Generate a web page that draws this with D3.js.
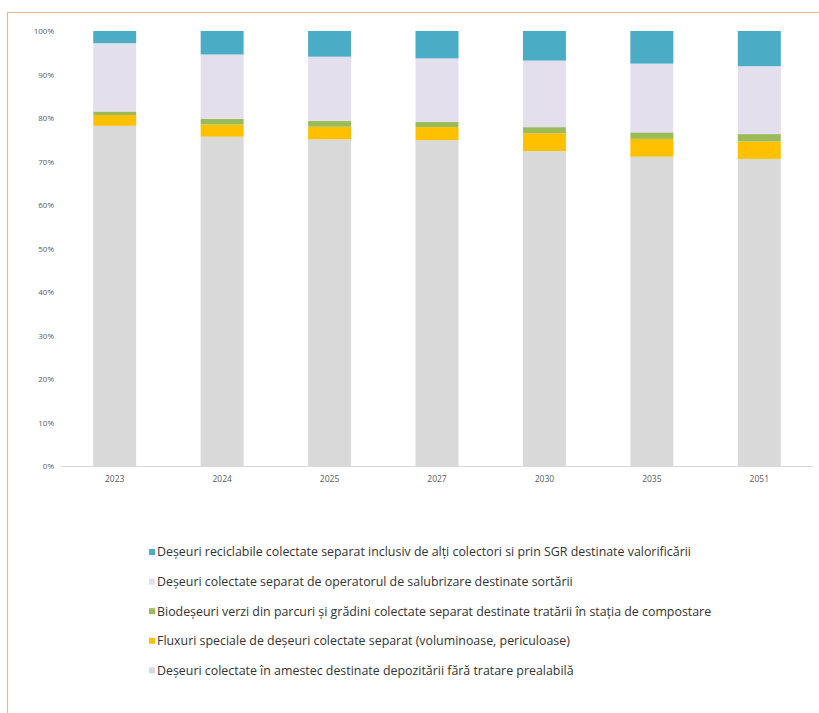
<!DOCTYPE html>
<html>
<head>
<meta charset="utf-8">
<script src="https://cdn.jsdelivr.net/npm/d3@7"></script>
<style>
  body { margin: 0; background: #fff; }
  svg { display: block; }
  .tick text { fill: #595959; }
</style>
</head>
<body>
<script>
var width = 819,
    height = 713;

// categories (years)
var years = ["2023", "2024", "2025", "2027", "2030", "2035", "2051"];

// series, bottom of the stack first (percent)
var amestec   = [78.2, 75.7, 75.1, 74.9, 72.4, 71.1, 70.6];
var fluxuri   = [2.5, 2.8, 2.9, 3.0, 4.1, 4.1, 4.0];
var biodeseuri = [0.8, 1.3, 1.3, 1.2, 1.4, 1.5, 1.7];
var salubrizare = [15.7, 14.8, 14.8, 14.6, 15.3, 15.8, 15.6];
var reciclabile = [2.8, 5.4, 5.9, 6.3, 6.8, 7.5, 8.1];

var seriesNames = [
    "Deșeuri colectate în amestec destinate depozitării fără tratare prealabilă",
    "Fluxuri speciale de deșeuri colectate separat (voluminoase, periculoase)",
    "Biodeșeuri verzi din parcuri și grădini colectate separat destinate tratării în stația de compostare",
    "Deșeuri colectate separat de operatorul de salubrizare destinate sortării",
    "Deșeuri reciclabile colectate separat inclusiv de alți colectori si prin SGR destinate valorificării"
];
var seriesValues = [amestec, fluxuri, biodeseuri, salubrizare, reciclabile];
var colors = ["#d9d9d9", "#ffc000", "#9bbb59", "#e4dfec", "#4bacc6"];

var yTicks = [0, 10, 20, 30, 40, 50, 60, 70, 80, 90, 100];

var svg = d3.select("body").append("svg")
    .attr("width", width)
    .attr("height", height);

// frame of the pasted picture
svg.append("path")
    .attr("d", "M7.5,713 V12.5 H819")
    .attr("fill", "none")
    .attr("stroke", "#dcbc98")
    .attr("stroke-width", 1.2);

var x = d3.scaleBand()
    .domain(years)
    .range([61, 813])
    .paddingInner(0.6)
    .paddingOuter(0.3);

var y = d3.scaleLinear()
    .domain([0, 100])
    .range([466, 31]);

// build rows for d3.stack
var keys = seriesNames.map(function(d, i) { return "s" + i; });
var rows = years.map(function(yr, j) {
    var r = { year: yr };
    seriesValues.forEach(function(s, i) { r["s" + i] = s[j]; });
    return r;
});
var stacked = d3.stack().keys(keys).offset(d3.stackOffsetExpand)(rows);

// y axis (labels only)
var yAxis = svg.append("g")
    .attr("transform", "translate(54,0)")
    .call(d3.axisLeft(y).tickValues(yTicks).tickSize(0).tickPadding(0)
        .tickFormat(function(d) { return d + "%"; }));
yAxis.select(".domain").remove();
yAxis.selectAll("text")
    .attr("font-family", "'Open Sans', sans-serif")
    .attr("font-size", 8);

svg.append("g")
    .selectAll("g")
    .data(stacked)
    .enter().append("g")
    .attr("fill", function(d, i) { return colors[i]; })
    .selectAll("rect")
    .data(function(d) { return d; })
    .enter().append("rect")
    .attr("x", function(d) { return x(d.data.year); })
    .attr("width", x.bandwidth())
    .attr("y", function(d) { return y(d[1] * 100); })
    .attr("height", function(d) { return y(d[0] * 100) - y(d[1] * 100); });

// x axis
var xAxis = svg.append("g")
    .attr("transform", "translate(0,466)")
    .call(d3.axisBottom(x).tickSize(0).tickPadding(10));
xAxis.select(".domain")
    .attr("stroke", "#d9d9d9")
    .attr("d", "M" + 61 + ",0.5H" + 813);
xAxis.selectAll("text")
    .attr("font-family", "'Open Sans', sans-serif")
    .attr("font-size", 8.5);

// legend, top entry = top of the stack
var legendItems = d3.range(seriesNames.length).reverse();
var legend = svg.append("g")
    .selectAll("g")
    .data(legendItems)
    .enter().append("g")
    .attr("transform", function(d, i) { return "translate(149," + (552 + i * 29.6) + ")"; });

legend.append("rect")
    .attr("x", 0)
    .attr("y", -3)
    .attr("width", 6)
    .attr("height", 6)
    .attr("fill", function(d) { return colors[d]; });

legend.append("text")
    .attr("x", 8)
    .attr("dy", "0.35em")
    .attr("font-family", "'Open Sans', sans-serif")
    .attr("font-size", 12.4)
    .attr("fill", "#333")
    .text(function(d) { return seriesNames[d]; });
</script>
</body>
</html>
